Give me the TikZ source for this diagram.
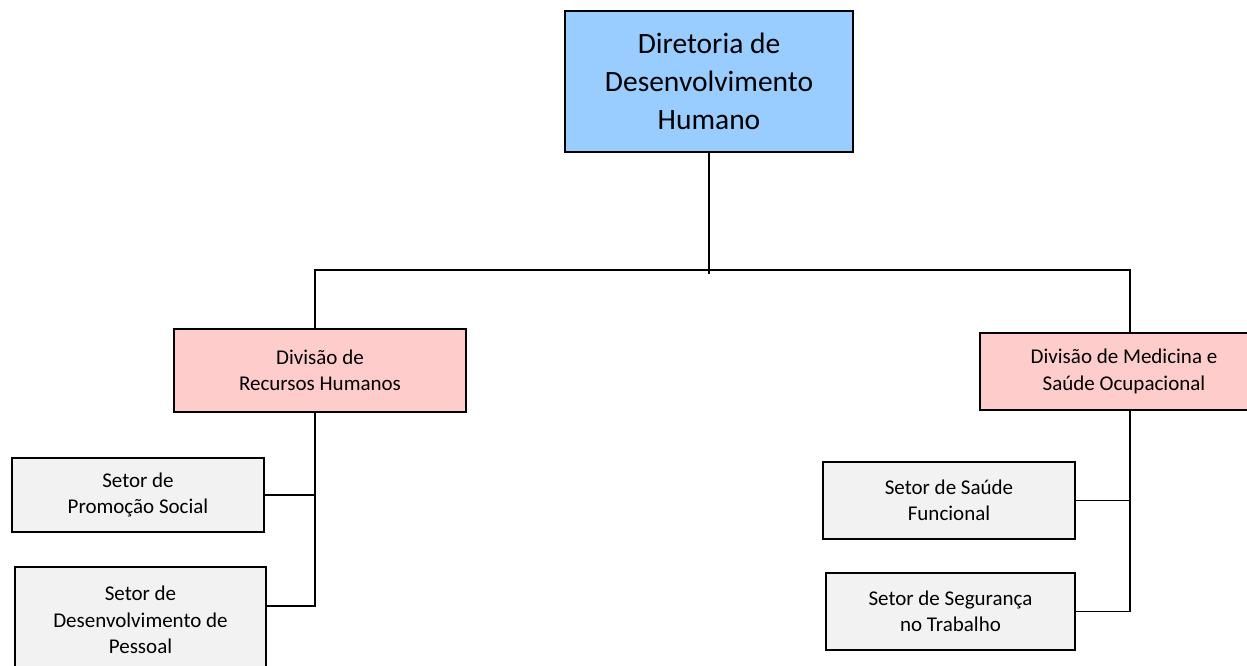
\documentclass[tikz,border=0pt]{standalone}
\usepackage{fontspec}
\setmainfont{Carlito}
\usetikzlibrary{calc, positioning}

\begin{document}
\begin{tikzpicture}[x=1pt,y=-1pt,align=center]
\tikzstyle{box}=[rectangle,draw=black,line width=1.2pt,inner sep=0pt,font=\fontsize{21}{26.5}\selectfont]
\tikzstyle{diretoria}=[box,fill={rgb,255:red,153;green,204;blue,255},font=\fontsize{29.5}{38}\selectfont]
\tikzstyle{divisao}=[box,fill={rgb,255:red,255;green,204;blue,204}]
\tikzstyle{setor}=[box,fill={rgb,255:red,242;green,242;blue,242}]
\tikzstyle{link}=[-,line width=1.3pt]

\useasboundingbox (0,0) rectangle (1247,666);

\node[diretoria, minimum width=288pt, minimum height=141pt] (ddh) at (709,81.5) {Diretoria de\\Desenvolvimento\\Humano};

\node[divisao, minimum width=292pt, minimum height=83pt] (drh) at (320,370.5) {Divisão de\\Recursos Humanos};
\node[divisao, minimum width=288pt, minimum height=77pt] (dmso) at (1124,371.5) {Divisão de Medicina e\\Saúde Ocupacional};

\node[setor, minimum width=252pt, minimum height=74pt] (sps) at (138,495) {Setor de\\Promoção Social};
\node[setor, minimum width=251pt, minimum height=106pt] (sdp) at (140.5,620) {Setor de\\Desenvolvimento de\\Pessoal};
\node[setor, minimum width=252pt, minimum height=77pt] (ssf) at (949,500.5) {Setor de Saúde\\Funcional};
\node[setor, minimum width=249pt, minimum height=77pt] (sst) at (950.5,611.5) {Setor de Segurança\\no Trabalho};

\coordinate (jl) at (315,270);
\coordinate (jr) at (1130,270);
\coordinate (bl) at (315,606);

% diretoria -> divisoes
\draw[link] (ddh.south) -- ++(0,121);
\draw[link] (jl |- drh.north) -- (jl) -- (jr) -- (jr |- dmso.north);

% divisao RH -> setores
\draw[link] (jl |- drh.south) -- (bl) -- (bl -| sdp.east);
\draw[link] (sps.east) -- (sps.east -| jl);

% divisao medicina -> setores
\draw[link] (jr |- dmso.south) |- (sst.east);
\draw[link] (ssf.east) -- (ssf.east -| jr);
\end{tikzpicture}
\end{document}
